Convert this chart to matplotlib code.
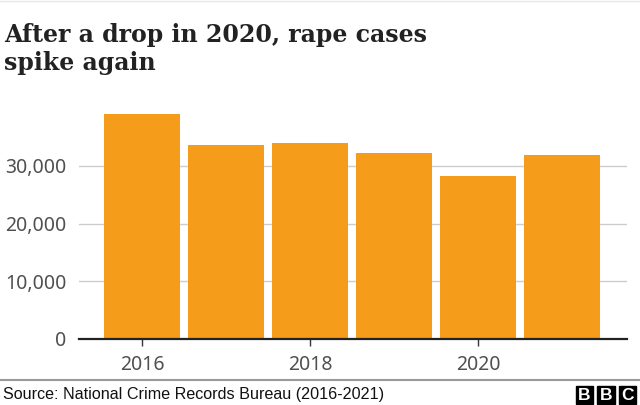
import matplotlib.pyplot as plt
from matplotlib.patches import Rectangle
from matplotlib.lines import Line2D

years = [2016, 2017, 2018, 2019, 2020, 2021]
cases = [39000, 33650, 33950, 32300, 28200, 31900]
tick_years = [2016, 2018, 2020]
y_ticks = [0, 10000, 20000, 30000]

bar_color = "#f59c1a"
text_gray = "#505050"

fig = plt.figure(figsize=(6.4, 4.05), dpi=100)
ax = fig.add_axes([79 / 640, 1 - 338.5 / 405, (627 - 79) / 640, 230 / 405])

ax.bar(years, cases, width=0.9, color=bar_color, zorder=2)
ax.set_xlim(2015.25, 2021.77)
ax.set_ylim(0, 40000)

ax.set_yticks(y_ticks)
ax.set_yticklabels([f"{v:,}" for v in y_ticks])
ax.set_xticks(tick_years)
ax.set_xticklabels([str(y) for y in tick_years])
ax.yaxis.grid(True, color="#cccccc", linewidth=1, zorder=0)
ax.tick_params(axis="y", length=0, pad=9, labelsize=14, labelcolor=text_gray)
ax.tick_params(axis="x", length=5, width=1, color="#333333", pad=7,
               labelsize=14, labelcolor=text_gray)
for lab in ax.get_xticklabels() + ax.get_yticklabels():
    lab.set_family("Noto Sans")
for s in ["top", "right", "left"]:
    ax.spines[s].set_visible(False)
ax.spines["bottom"].set_color("#222222")
ax.spines["bottom"].set_linewidth(1.6)
ax.spines["bottom"].set_zorder(3)

fig.text(4 / 640, 1 - 70 / 405, "After a drop in 2020, rape cases\nspike again",
         ha="left", va="baseline", fontsize=17, fontweight="bold",
         family="DejaVu Serif", color="#222222", linespacing=1.22)

# footer
fig.add_artist(Line2D([0, 1], [1 - 379.5 / 405] * 2, color="#999999", linewidth=1.5))
fig.add_artist(Line2D([0, 1], [1 - 0.5 / 405] * 2, color="#e6e6e6", linewidth=1))
fig.text(3 / 640, 1 - 394 / 405, "Source: National Crime Records Bureau (2016-2021)",
         ha="left", va="center", fontsize=11.6, family="Liberation Sans", color="#111111")

box = 17.5
gap = 4
x0 = 575.5
for i, letter in enumerate("BBC"):
    x = x0 + i * (box + gap)
    fig.add_artist(Rectangle((x / 640, 1 - 403.5 / 405), box / 640, box / 405,
                             color="black", transform=fig.transFigure))
    fig.text((x + box / 2) / 640, 1 - 395.5 / 405, letter, ha="center", va="center",
             fontsize=12.5, fontweight="bold", family="Liberation Sans", color="white")

fig.savefig("out.png", dpi=100)
